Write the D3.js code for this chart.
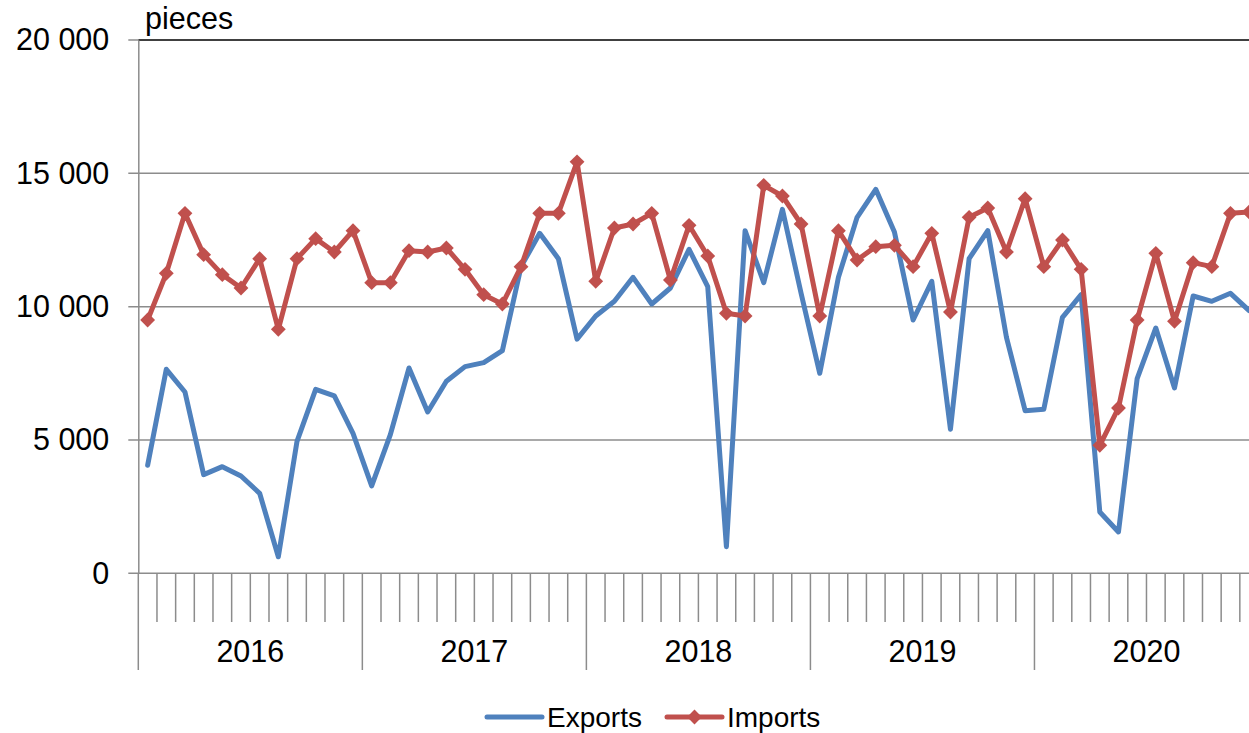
<!DOCTYPE html>
<html lang="en">
<head>
    <meta charset="UTF-8">
    <title>Exports and Imports - pieces</title>
    <style>
        body { margin: 0; background: #fff; }
        svg text { font-family: "Liberation Sans", Arial, sans-serif; fill: #000; }
    </style>
</head>
<body>
    <div id="chart"></div>

    <script src="https://d3js.org/d3.v7.min.js"></script>
    <script>
        // Data (monthly, Jan 2016 - Dec 2020)
        const years = [2016, 2017, 2018, 2019, 2020];
        const months = years.flatMap(y => d3.range(1, 13).map(m => y + "-" + m));

        const exportsData = [
            4050, 7650, 6800, 3700, 4000, 3650, 3000, 620, 4950, 6900, 6650, 5250,
            3280, 5200, 7700, 6050, 7200, 7750, 7900, 8350, 11500, 12750, 11800, 8780,
            9650, 10200, 11100, 10100, 10700, 12150, 10750, 1000, 12850, 10900, 13650, 10500,
            7500, 11100, 13350, 14400, 12800, 9500, 10950, 5400, 11800, 12850, 8850, 6100,
            6150, 9600, 10450, 2300, 1550, 7300, 9200, 6950, 10400, 10200, 10500, 9850
        ];
        const importsData = [
            9500, 11250, 13500, 11950, 11200, 10700, 11800, 9150, 11800, 12550, 12050, 12850,
            10900, 10900, 12100, 12050, 12200, 11400, 10450, 10100, 11500, 13500, 13500, 15430,
            10950, 12950, 13100, 13500, 11000, 13050, 11900, 9750, 9650, 14550, 14150, 13100,
            9650, 12850, 11750, 12250, 12300, 11500, 12750, 9800, 13350, 13700, 12050, 14050,
            11500, 12500, 11400, 4800, 6200, 9500, 12000, 9450, 11650, 11500, 13500, 13550
        ];
        const yTicks = [0, 5000, 10000, 15000, 20000];
        const seriesNames = ["Exports", "Imports"];

        const W = 1249, H = 733;
        const plotLeft = 138.3, plotTop = 40, plotBottom = 573.3;
        const monthW = 18.67;
        const plotRight = plotLeft + monthW * months.length;

        const svg = d3.select("#chart").append("svg")
            .attr("width", W)
            .attr("height", H);

        const x = d3.scaleBand()
            .domain(months)
            .range([plotLeft, plotRight])
            .padding(0);
        const cx = m => x(m) + x.bandwidth() / 2;

        const y = d3.scaleLinear()
            .domain([0, 20000])
            .range([plotBottom, plotTop]);

        const fmt = v => d3.format(",")(v).replace(/,/g, " ");

        // Gridlines
        svg.append("g")
            .selectAll("line")
            .data(yTicks.filter(t => t < 20000))
            .enter().append("line")
            .attr("x1", plotLeft - 10)
            .attr("x2", W)
            .attr("y1", d => y(d))
            .attr("y2", d => y(d))
            .attr("stroke", "#8c8c8c")
            .attr("stroke-width", 1.5);

        // top border
        svg.append("line")
            .attr("x1", plotLeft).attr("x2", W)
            .attr("y1", y(20000)).attr("y2", y(20000))
            .attr("stroke", "#000").attr("stroke-width", 1.5);
        svg.append("line")
            .attr("x1", plotLeft - 10).attr("x2", plotLeft)
            .attr("y1", y(20000)).attr("y2", y(20000))
            .attr("stroke", "#8c8c8c").attr("stroke-width", 1.5);

        // Y axis
        const yAxis = svg.append("g")
            .attr("transform", `translate(${plotLeft},0)`)
            .call(d3.axisLeft(y).tickValues(yTicks).tickFormat(fmt).tickSize(0).tickPadding(29));
        yAxis.select(".domain").attr("stroke", "#8c8c8c").attr("stroke-width", 1.5);
        yAxis.selectAll("text")
            .style("font-size", "30.5px")
            .style("font-family", "'Liberation Sans', Arial, sans-serif");

        // X axis: month ticks and year ticks
        const xg = svg.append("g");
        const boundaries = d3.range(months.length + 1);
        xg.selectAll("line.m")
            .data(boundaries)
            .enter().append("line")
            .attr("class", "m")
            .attr("x1", i => i < months.length ? x(months[i]) : plotRight)
            .attr("x2", i => i < months.length ? x(months[i]) : plotRight)
            .attr("y1", plotBottom)
            .attr("y2", i => i % 12 === 0 ? 670 : 622)
            .attr("stroke", "#8c8c8c")
            .attr("stroke-width", 1.5);

        xg.selectAll("text")
            .data(years)
            .enter().append("text")
            .attr("x", (d, i) => (x(months[i * 12]) + x(months[i * 12 + 11]) + x.bandwidth()) / 2)
            .attr("y", 662)
            .attr("text-anchor", "middle")
            .style("font-size", "30.5px")
            .text(d => d);

        // Unit label
        svg.append("text")
            .attr("x", 145)
            .attr("y", 29)
            .style("font-size", "30.5px")
            .text("pieces");

        // Lines
        const line = d3.line()
            .x((d, i) => cx(months[i]))
            .y(d => y(d));

        const colors = ["#4f81bd", "#c0504d"];

        svg.append("path")
            .datum(exportsData)
            .attr("d", line)
            .attr("fill", "none")
            .attr("stroke", colors[0])
            .attr("stroke-width", 5)
            .attr("stroke-linejoin", "round")
            .attr("stroke-linecap", "round");

        svg.append("path")
            .datum(importsData)
            .attr("d", line)
            .attr("fill", "none")
            .attr("stroke", colors[1])
            .attr("stroke-width", 5)
            .attr("stroke-linejoin", "round");

        const diamond = d3.symbol().type(d3.symbolSquare).size(110);
        svg.append("g")
            .selectAll("path")
            .data(importsData)
            .enter().append("path")
            .attr("d", diamond)
            .attr("transform", (d, i) => `translate(${cx(months[i])},${y(d)}) rotate(45)`)
            .attr("fill", colors[1]);

        // Legend
        const legend = svg.append("g");
        const lx = [487, 667];
        seriesNames.forEach((name, i) => {
            legend.append("line")
                .attr("x1", lx[i]).attr("x2", lx[i] + 55)
                .attr("y1", 717).attr("y2", 717)
                .attr("stroke", colors[i])
                .attr("stroke-width", 5)
                .attr("stroke-linecap", "round");
            if (i === 1) {
                legend.append("path")
                    .attr("d", diamond)
                    .attr("transform", `translate(${lx[i] + 27.5},717) rotate(45)`)
                    .attr("fill", colors[i]);
            }
            legend.append("text")
                .attr("x", lx[i] + 60)
                .attr("y", 727)
                .style("font-size", "28px")
                .text(name);
        });
    </script>
</body>
</html>
